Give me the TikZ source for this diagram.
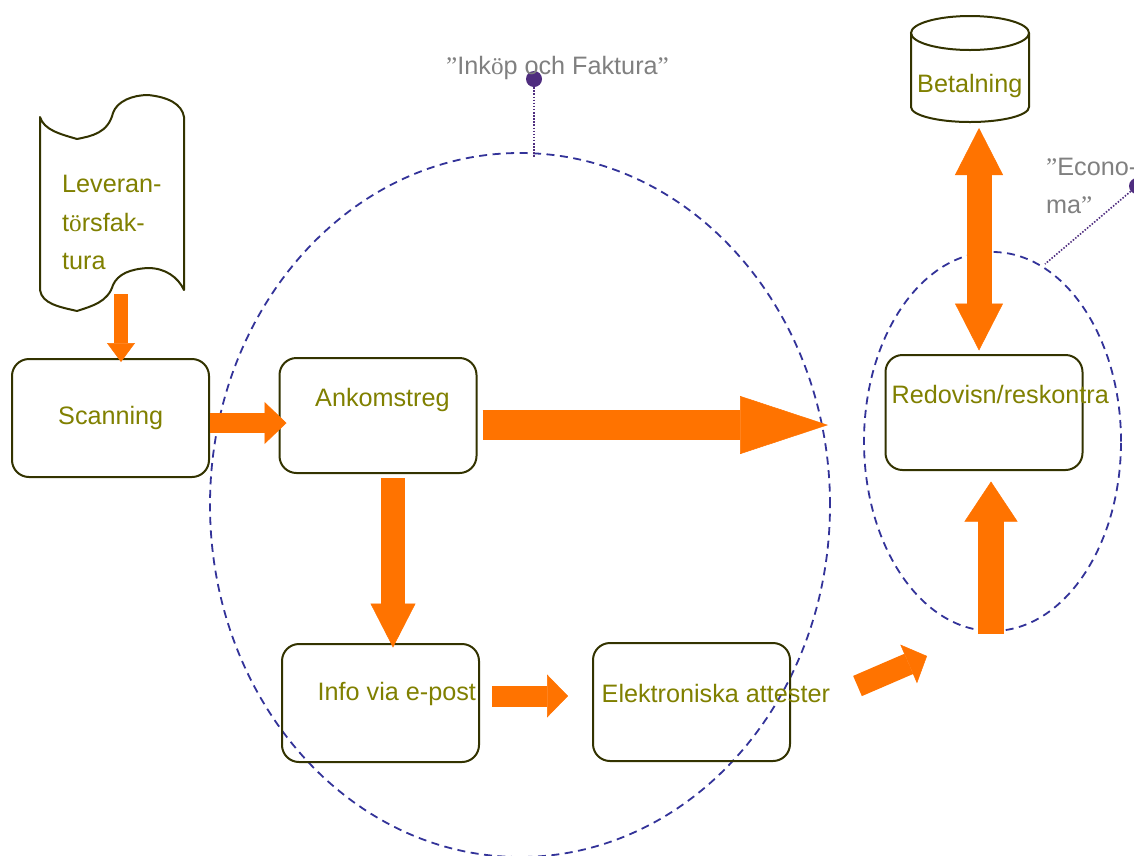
\documentclass[tikz,border=0pt]{standalone}
\usepackage{fontspec}
\setmainfont{Liberation Sans}
\newfontfamily\serifglyph{Liberation Serif}
\usetikzlibrary{arrows.meta}
\definecolor{olivetext}{HTML}{808000}
\definecolor{boxline}{HTML}{333300}
\definecolor{flow}{HTML}{FF7300}
\definecolor{zone}{HTML}{333399}
\definecolor{pin}{HTML}{4F2D7F}
\definecolor{graytext}{HTML}{808080}
\newcommand{\sg}[1]{{\serifglyph #1}}
\tikzset{
  flowbox/.style={draw=boxline,line width=2pt,rounded corners=17pt,minimum width=197pt,minimum height=117pt,inner sep=0pt},
  outline/.style={draw=boxline,line width=2pt},
  txt/.style={anchor=base west,inner sep=0pt,text=olivetext,font=\fontsize{25.2}{38}\selectfont},
  graytxt/.style={anchor=base west,inner sep=0pt,text=graytext,font=\fontsize{25.2}{38}\selectfont},
  zoneline/.style={draw=zone,line width=1.8pt,dash pattern=on 8pt off 5.5pt},
  pinline/.style={draw=pin,line width=1.6pt,dash pattern=on 1.5pt off 1.6pt},
  pindot/.style={fill=pin,draw=none,circle,minimum size=16pt,inner sep=0pt},
  blockarrow/.style n args={3}{draw=flow,line width=#1pt,-{Triangle[width=#2pt,length=#3pt,line width=.5pt,fill=flow]}},
  dblarrow/.style n args={3}{draw=flow,line width=#1pt,{Triangle[width=#2pt,length=#3pt,line width=.5pt,fill=flow]}-{Triangle[width=#2pt,length=#3pt,line width=.5pt,fill=flow]}}
}
\begin{document}
\begin{tikzpicture}[x=1pt,y=-1pt]
\useasboundingbox (0,0) rectangle (1134,855);
\clip (0,0) rectangle (1134,855);
\fill[white] (0,0) rectangle (1134,855);
% zones
\draw[zoneline] (520,505) ellipse [x radius=310pt,y radius=352pt];
\draw[zoneline] (992.5,441.5) ellipse [x radius=128.5pt,y radius=189.5pt];
% document shape
\draw[outline,line join=round] (40,117) .. controls (44,130) and (60,134) .. (77,139)
  .. controls (92,136) and (108,133) .. (113,113)
  .. controls (117,101) and (133,95) .. (148,95)
  .. controls (168,97) and (182,104) .. (184,117)
  -- (184,290)
  .. controls (178,277) and (165,268) .. (148,268)
  .. controls (130,269) and (118,274) .. (113,285)
  .. controls (108,302) and (92,306) .. (77,311)
  .. controls (60,307) and (42,304) .. (40,290) -- cycle;
\coordinate (docfoot) at (121,294);
% cylinder
\draw[outline] (911,33) -- (911,107) arc[start angle=180,end angle=360,x radius=59pt,y radius=15pt] -- (1029,33);
\draw[outline] (970,33) ellipse [x radius=59pt,y radius=17pt];
\coordinate (paybase) at (979,128);
% boxes
\node[flowbox,minimum height=118pt] (scan) at (110.5,418) {};
\node[flowbox,minimum height=115pt] (ank) at (378,415.5) {};
\node[flowbox,minimum height=118pt] (info) at (380.5,703) {};
\node[flowbox,minimum height=118pt] (att) at (691.5,702) {};
\node[flowbox,minimum height=115pt] (red) at (984,412.5) {};
\coordinate (leftattest) at (857.5,686);
\coordinate (rightzone) at (927,656);
\coordinate (tipzone) at (828,425);
\coordinate (redbelow) at (991,634);
% pins
\node[pindot] (pin1) at (534,79) {};
\node[pindot] (pin2) at (1137,186) {};
\coordinate (zone1top) at (534,157);
\coordinate (zone2top) at (1045,264);
\draw[pinline] (pin1) -- (zone1top);
\draw[pinline] (pin2) -- (zone2top);
% arrows
\draw[blockarrow={14.5}{28}{19}] (docfoot) -- ([xshift=10.5pt,yshift=-4pt]scan.north);
\draw[blockarrow={20}{42}{22}] ([yshift=-5pt]scan.east) -- ([xshift=8pt,yshift=-7.5pt]ank.west);
\draw[blockarrow={30}{58}{88}] ([xshift=5pt,yshift=-9.5pt]ank.east) -- (tipzone);
\draw[blockarrow={24}{45}{44}] ([xshift=15pt,yshift=-4pt]ank.south) -- ([xshift=12.5pt,yshift=-4.5pt]info.north);
\draw[blockarrow={21}{43}{21}] ([xshift=12pt,yshift=7pt]info.east) -- ([xshift=-24pt,yshift=6pt]att.west);
\draw[blockarrow={22}{42}{20}] (leftattest) -- (rightzone);
\draw[blockarrow={26}{53}{40}] (redbelow) -- ([xshift=7pt,yshift=-10.5pt]red.south);
\draw[dblarrow={25}{48}{47}] (paybase) -- ([xshift=-5pt,yshift=3.5pt]red.north);
% labels
\node[graytxt] (lab1) at (446,74) {\sg{”}Ink\sg{ö}p och Faktura\sg{”}};
\node[graytxt] (lab2a) at (1046,175) {\sg{”}Econo-};
\node[graytxt] (lab2b) at (1046,213) {ma\sg{”}};
\node[txt] (t1) at (62,192) {Leveran-};
\node[txt] (t2) at (62,231) {t\sg{ö}rsfak-};
\node[txt] (t3) at (62,269) {tura};
\node[txt] (t4) at (917,92) {Betalning};
\node[txt] (t5) at (58,424) {Scanning};
\node[txt] (t6) at (315,406) {Ankomstreg};
\node[txt] (t7) at (317.5,700) {Info via e-post};
\node[txt] (t8) at (601.5,702) {Elektroniska attester};
\node[txt] (t9) at (891.5,403) {Redovisn/reskontra};
\end{tikzpicture}
\end{document}
